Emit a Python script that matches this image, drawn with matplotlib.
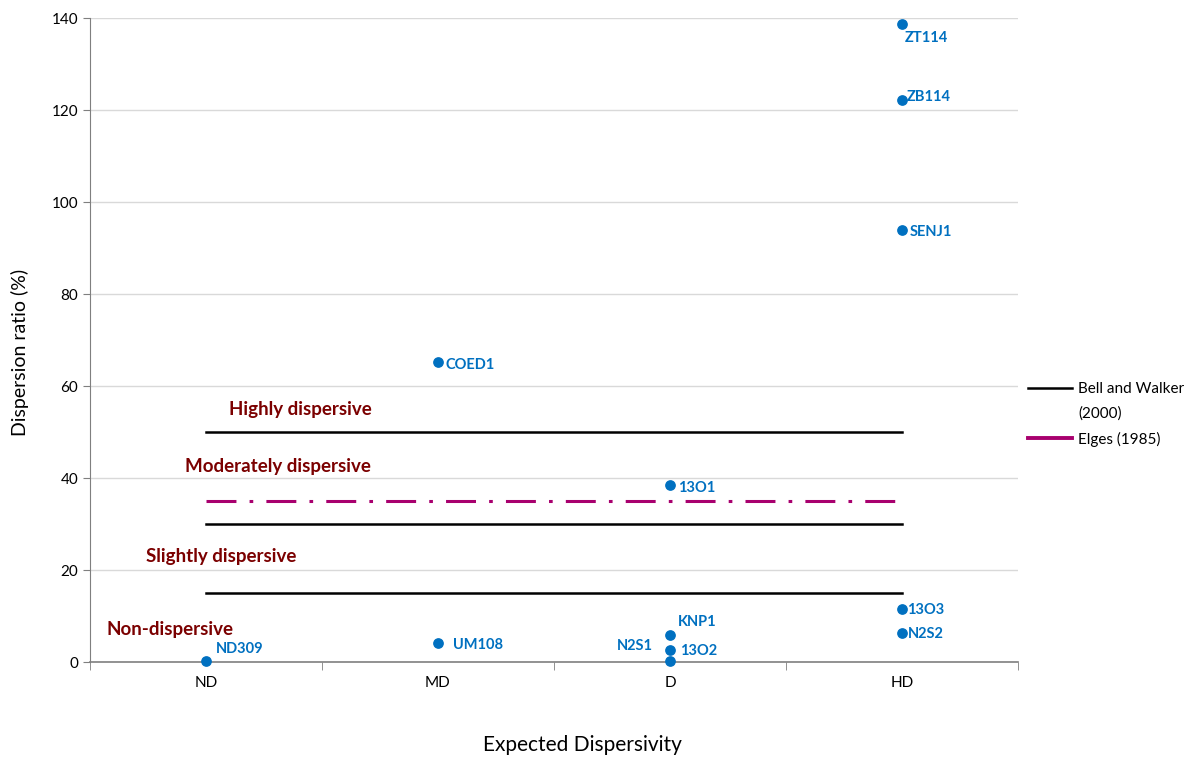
import matplotlib
matplotlib.use("Agg")
import matplotlib.pyplot as plt
from matplotlib.lines import Line2D

plt.rcParams['font.family'] = ['Lato', 'DejaVu Sans']

categories = ["ND", "MD", "D", "HD"]
sample_names = ["ND309", "UM108", "COED1", "13O1", "KNP1", "13O2", "N2S1",
                "ZT114", "ZB114", "SENJ1", "13O3", "N2S2"]
sample_cat = ["ND", "MD", "MD", "D", "D", "D", "D", "HD", "HD", "HD", "HD", "HD"]
sample_ratio = [0.2, 4.1, 65.2, 38.5, 5.9, 2.6, 0.2, 138.7, 122.2, 93.9, 11.5, 6.3]

bell_walker_limits = [15, 30, 50]
elges_limit = 35
class_names = ["Non-dispersive", "Slightly dispersive", "Moderately dispersive", "Highly dispersive"]

# label offsets in pixels (dx, dy, ha)
label_offsets = [(10, 12, 'left'), (15, -2, 'left'), (8, -3, 'left'), (8, -3, 'left'),
                 (8, 13, 'left'), (10, -1, 'left'), (-17, 15, 'right'),
                 (3, -14, 'left'), (5, 3, 'left'), (8, -2, 'left'), (5, -1, 'left'), (6, -1, 'left')]
class_pos = [(0.57, 7.0), (0.74, 23.0), (0.91, 42.5), (1.1, 55.0)]

fig = plt.figure(figsize=(11.97, 7.58), dpi=100)
ax = fig.add_axes([90/1197, 96/758, 928/1197, 644/758])

xpos = {c: i + 1 for i, c in enumerate(categories)}
xs = [xpos[c] for c in sample_cat]
blue = "#0070C0"
ax.scatter(xs, sample_ratio, s=45, color=blue, zorder=5, clip_on=False)
for name, x, y, (dx, dy, ha) in zip(sample_names, xs, sample_ratio, label_offsets):
    ax.annotate(name, (x, y), xytext=(dx, dy), textcoords='offset pixels',
                ha=ha, va='center', color=blue, fontweight='bold', fontsize=10.5)

for v in bell_walker_limits:
    ax.plot([1, 4], [v, v], color='black', lw=1.8, zorder=3)
ax.plot([1, 4], [elges_limit, elges_limit], color='#A8006E', lw=2.2,
        dashes=(9.8, 4.3, 1.2, 4.3), solid_capstyle='butt', dash_capstyle='butt', zorder=3)

darkred = "#7B0000"
for name, (x, y) in zip(class_names, class_pos):
    ax.text(x, y, name, color=darkred, fontweight='bold', fontsize=13.5, ha='left', va='center')

ax.set_xlim(0.5, 4.5)
ax.set_ylim(0, 140)
ax.set_yticks(range(0, 141, 20))
ax.set_xticks([1, 2, 3, 4])
ax.set_xticklabels(categories)
ax.set_xticks([0.5, 1.5, 2.5, 3.5, 4.5], minor=True)
ax.tick_params(axis='x', which='major', length=0, pad=10, labelsize=11)
ax.tick_params(axis='x', which='minor', length=6, direction='out', color='#7f7f7f')
ax.tick_params(axis='y', length=5, direction='out', labelsize=11, color='#7f7f7f')
ax.yaxis.grid(True, color='#d9d9d9', lw=1)
ax.set_axisbelow(True)
for s in ['top', 'right']:
    ax.spines[s].set_visible(False)
ax.spines['left'].set_color('#7f7f7f')
ax.spines['bottom'].set_color('#7f7f7f')
ax.spines['bottom'].set_linewidth(1.2)

ax.set_ylabel("Dispersion ratio (%)", fontsize=14)
ax.yaxis.set_label_coords(-0.066, 0.481)
ax.set_xlabel("Expected Dispersivity", fontsize=15)
ax.xaxis.set_label_coords((582 - 90) / 928, -0.114)

handles = [Line2D([], [], color='black', lw=1.8),
           Line2D([], [], color='none'),
           Line2D([], [], color='#A8006E', lw=2.8)]
fig.legend(handles, ["Bell and Walker", "(2000)", "Elges (1985)"],
           loc='upper left', bbox_to_anchor=(1028/1197, 1 - 382/758),
           frameon=False, fontsize=11, handlelength=2.9, handletextpad=0.4,
           labelspacing=0.7, borderaxespad=0.0, borderpad=0.0)

fig.savefig("out.png", dpi=100)
